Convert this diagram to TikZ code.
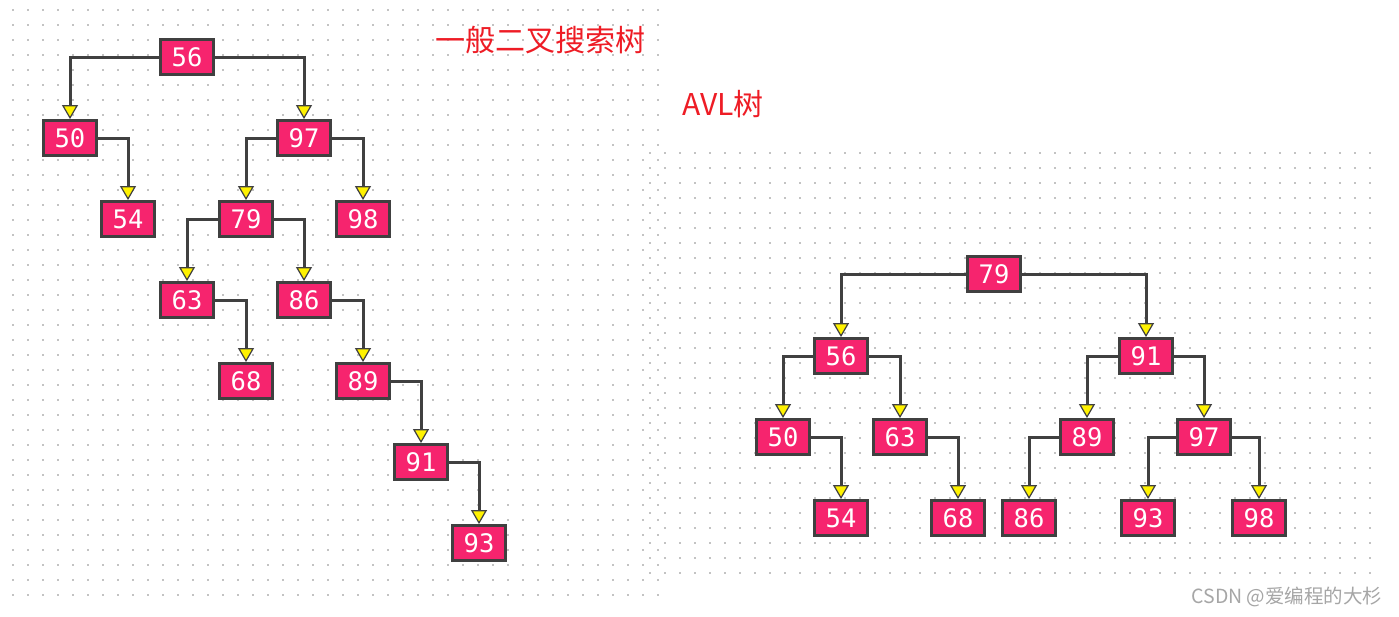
\documentclass[tikz,border=0pt]{standalone}
\usepackage{fontspec}
\newfontfamily\cjkfont{Noto Sans CJK SC}
\newfontfamily\monofont{DejaVu Sans Mono}
\usetikzlibrary{arrows.meta}
\definecolor{boxfill}{RGB}{246,36,110}
\definecolor{boxline}{RGB}{64,64,64}
\definecolor{titlered}{RGB}{238,28,37}
\definecolor{dotgray}{RGB}{195,195,195}
\tikzset{
  numbox/.style={draw=boxline, fill=boxfill, line width=3.4pt, minimum width=53.5pt, minimum height=34.5pt, inner sep=0pt, text=white, font=\monofont\fontsize{25.5}{25.5}\selectfont},
  edge/.style={draw=boxline, line width=3pt, -{Triangle[width=16pt,length=14pt,fill=yellow,line width=1.2pt]}},
  title/.style={text=titlered, font=\cjkfont\fontsize{30}{30}\selectfont, inner sep=0pt},
}
\begin{document}
\begin{tikzpicture}[x=1pt,y=-1pt]
\useasboundingbox (0,0) rectangle (1399,616);
\fill[white] (0,0) rectangle (1399,616);
% dot grids
\foreach \i in {0,...,43}{\foreach \j in {0,...,39}{\fill[dotgray] ({13+15*\i-1.1},{10+15*\j-1.1}) rectangle ++(2.2,2.2);}}
\foreach \i in {0,...,48}{\foreach \j in {0,...,28}{\fill[dotgray] ({650+15*\i-1.1},{153+15*\j-1.1}) rectangle ++(2.2,2.2);}}
% titles
\node[title] (t1) at (540,40) {一般二叉搜索树};
\node[title] (t2) at (723,104) {AVL树};
\node[text=gray!70, font=\cjkfont\fontsize{19.5}{19.5}\selectfont, inner sep=0pt] (wm) at (1287,597) {CSDN @爱编程的大杉};
% left tree
\node[numbox] (a56) at (187,57) {56};
\node[numbox] (a50) at (70,138) {50};
\node[numbox] (a97) at (304,138) {97};
\node[numbox] (a54) at (128,219) {54};
\node[numbox] (a79) at (246,219) {79};
\node[numbox] (a98) at (363,219) {98};
\node[numbox] (a63) at (187,300) {63};
\node[numbox] (a86) at (304,300) {86};
\node[numbox] (a68) at (246,381) {68};
\node[numbox] (a89) at (363,381) {89};
\node[numbox] (a91) at (421,462) {91};
\node[numbox] (a93) at (479,543) {93};
\draw[edge] (a56.west) -| (a50.north);
\draw[edge] (a56.east) -| (a97.north);
\draw[edge] (a50.east) -| (a54.north);
\draw[edge] (a97.west) -| (a79.north);
\draw[edge] (a97.east) -| (a98.north);
\draw[edge] (a79.west) -| (a63.north);
\draw[edge] (a79.east) -| (a86.north);
\draw[edge] (a63.east) -| (a68.north);
\draw[edge] (a86.east) -| (a89.north);
\draw[edge] (a89.east) -| (a91.north);
\draw[edge] (a91.east) -| (a93.north);
% AVL tree
\node[numbox] (b79) at (994,274) {79};
\node[numbox] (b56) at (841,356) {56};
\node[numbox] (b91) at (1146,356) {91};
\node[numbox] (b50) at (783,437) {50};
\node[numbox] (b63) at (900,437) {63};
\node[numbox] (b89) at (1087,437) {89};
\node[numbox] (b97) at (1204,437) {97};
\node[numbox] (b54) at (841,518) {54};
\node[numbox] (b68) at (958,518) {68};
\node[numbox] (b86) at (1029,518) {86};
\node[numbox] (b93) at (1148,518) {93};
\node[numbox] (b98) at (1259,518) {98};
\draw[edge] (b79.west) -| (b56.north);
\draw[edge] (b79.east) -| (b91.north);
\draw[edge] (b56.west) -| (b50.north);
\draw[edge] (b56.east) -| (b63.north);
\draw[edge] (b91.west) -| (b89.north);
\draw[edge] (b91.east) -| (b97.north);
\draw[edge] (b50.east) -| (b54.north);
\draw[edge] (b63.east) -| (b68.north);
\draw[edge] (b89.west) -| (b86.north);
\draw[edge] (b97.west) -| (b93.north);
\draw[edge] (b97.east) -| (b98.north);
\end{tikzpicture}
\end{document}
